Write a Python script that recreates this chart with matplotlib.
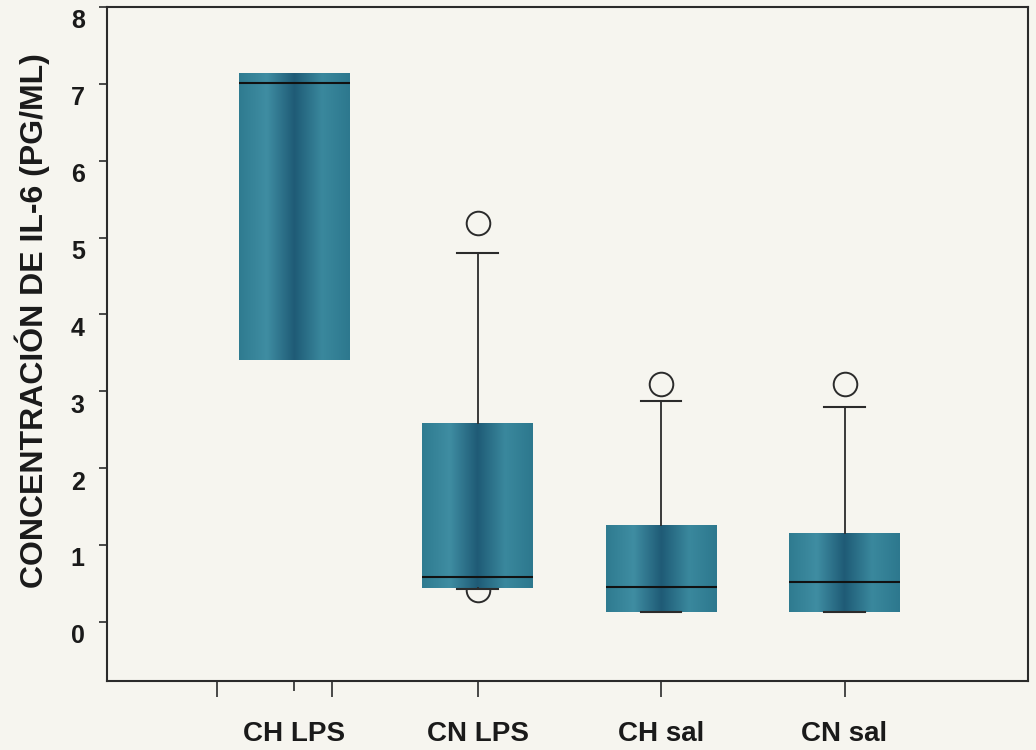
import numpy as np
import matplotlib
matplotlib.use('Agg')
import matplotlib.pyplot as plt
import matplotlib.transforms as mtransforms
from matplotlib.colors import LinearSegmentedColormap

plt.rcParams['font.family'] = ['Liberation Sans', 'DejaVu Sans']
plt.rcParams['font.weight'] = 'bold'

# Box statistics per group (IL-6, pg/ml)
groups = ['CH LPS', 'CN LPS', 'CH sal', 'CN sal']
q1 = [3.41, 0.44, 0.13, 0.13]
med = [7.01, 0.58, 0.45, 0.52]
q3 = [7.14, 2.59, 1.26, 1.15]
whislo = [3.41, 0.43, 0.13, 0.13]
whishi = [7.14, 4.80, 2.87, 2.79]
fliers = [[], [5.19, 0.42], [3.10], [3.10]]

paper = '#f6f5ef'
ink = '#2b2b2b'

stats = []
for i, g in enumerate(groups):
    stats.append({'label': g, 'q1': q1[i], 'med': med[i], 'q3': q3[i],
                  'whislo': whislo[i], 'whishi': whishi[i],
                  'fliers': np.array(fliers[i])})

fig = plt.figure(figsize=(10.36, 7.5), dpi=100, facecolor=paper)
ax = fig.add_axes([0.1033, 0.092, 0.889, 0.8987])
ax.set_facecolor(paper)

positions = [1, 2, 3, 4]
bp = ax.bxp(stats, positions=positions, widths=0.605, patch_artist=True,
            capwidths=0.22,
            boxprops=dict(facecolor='none', edgecolor='none'),
            whiskerprops=dict(color=ink, linewidth=1.3),
            capprops=dict(color=ink, linewidth=1.5),
            medianprops=dict(color='#111111', linewidth=1.5),
            flierprops=dict(marker='o', markersize=17, markerfacecolor='none',
                            markeredgecolor=ink, markeredgewidth=1.4, zorder=1.5))

# first group has no whiskers
for c in bp['caps'][:2]:
    c.set_visible(False)

# teal shaded fill across each box
shade = LinearSegmentedColormap.from_list('teal', [
    (0.0, '#2f7b90'), (0.25, '#3f8da2'), (0.5, '#1f5b76'),
    (0.75, '#3a889d'), (1.0, '#2d788e')])
grad = np.linspace(0, 1, 256).reshape(1, -1)
for box in bp['boxes']:
    verts = box.get_path().vertices
    x0, x1 = verts[:, 0].min(), verts[:, 0].max()
    y0, y1 = verts[:, 1].min(), verts[:, 1].max()
    im = ax.imshow(grad, cmap=shade, extent=[x0, x1, y0, y1], aspect='auto',
                   interpolation='bicubic', zorder=1.8)
    im.set_clip_path(box)

ax.set_xlim(-0.02, 5.0)
ax.set_ylim(-0.77, 8)

for s in ax.spines.values():
    s.set_color(ink)
    s.set_linewidth(1.5)

ax.set_yticks(range(0, 9))
ax.tick_params(axis='y', direction='out', length=6, width=1.2, color=ink,
               pad=10, labelsize=18, labelcolor='#1a1a1a')
offset = mtransforms.ScaledTranslation(0, -0.12, fig.dpi_scale_trans)
for lab in ax.get_yticklabels():
    lab.set_transform(lab.get_transform() + offset)

ax.set_xticks(positions)
ax.set_xticklabels(groups)
ax.tick_params(axis='x', direction='out', length=11.5, width=1.2, color=ink,
               pad=17, labelsize=20, labelcolor='#1a1a1a')
ax.xaxis.get_major_ticks()[0].tick1line.set_markersize(7)
ax.set_xticks([0.58, 1.207], minor=True)
ax.tick_params(axis='x', which='minor', direction='out', length=11.5,
               width=1.2, color=ink)

ax.set_ylabel('CONCENTRACIÓN DE IL-6 (PG/ML)', fontsize=23, fontweight='bold',
              color='#1a1a1a')
ax.yaxis.set_label_coords(-0.062, 0.535)

fig.savefig('out.png', dpi=100, facecolor=paper)
